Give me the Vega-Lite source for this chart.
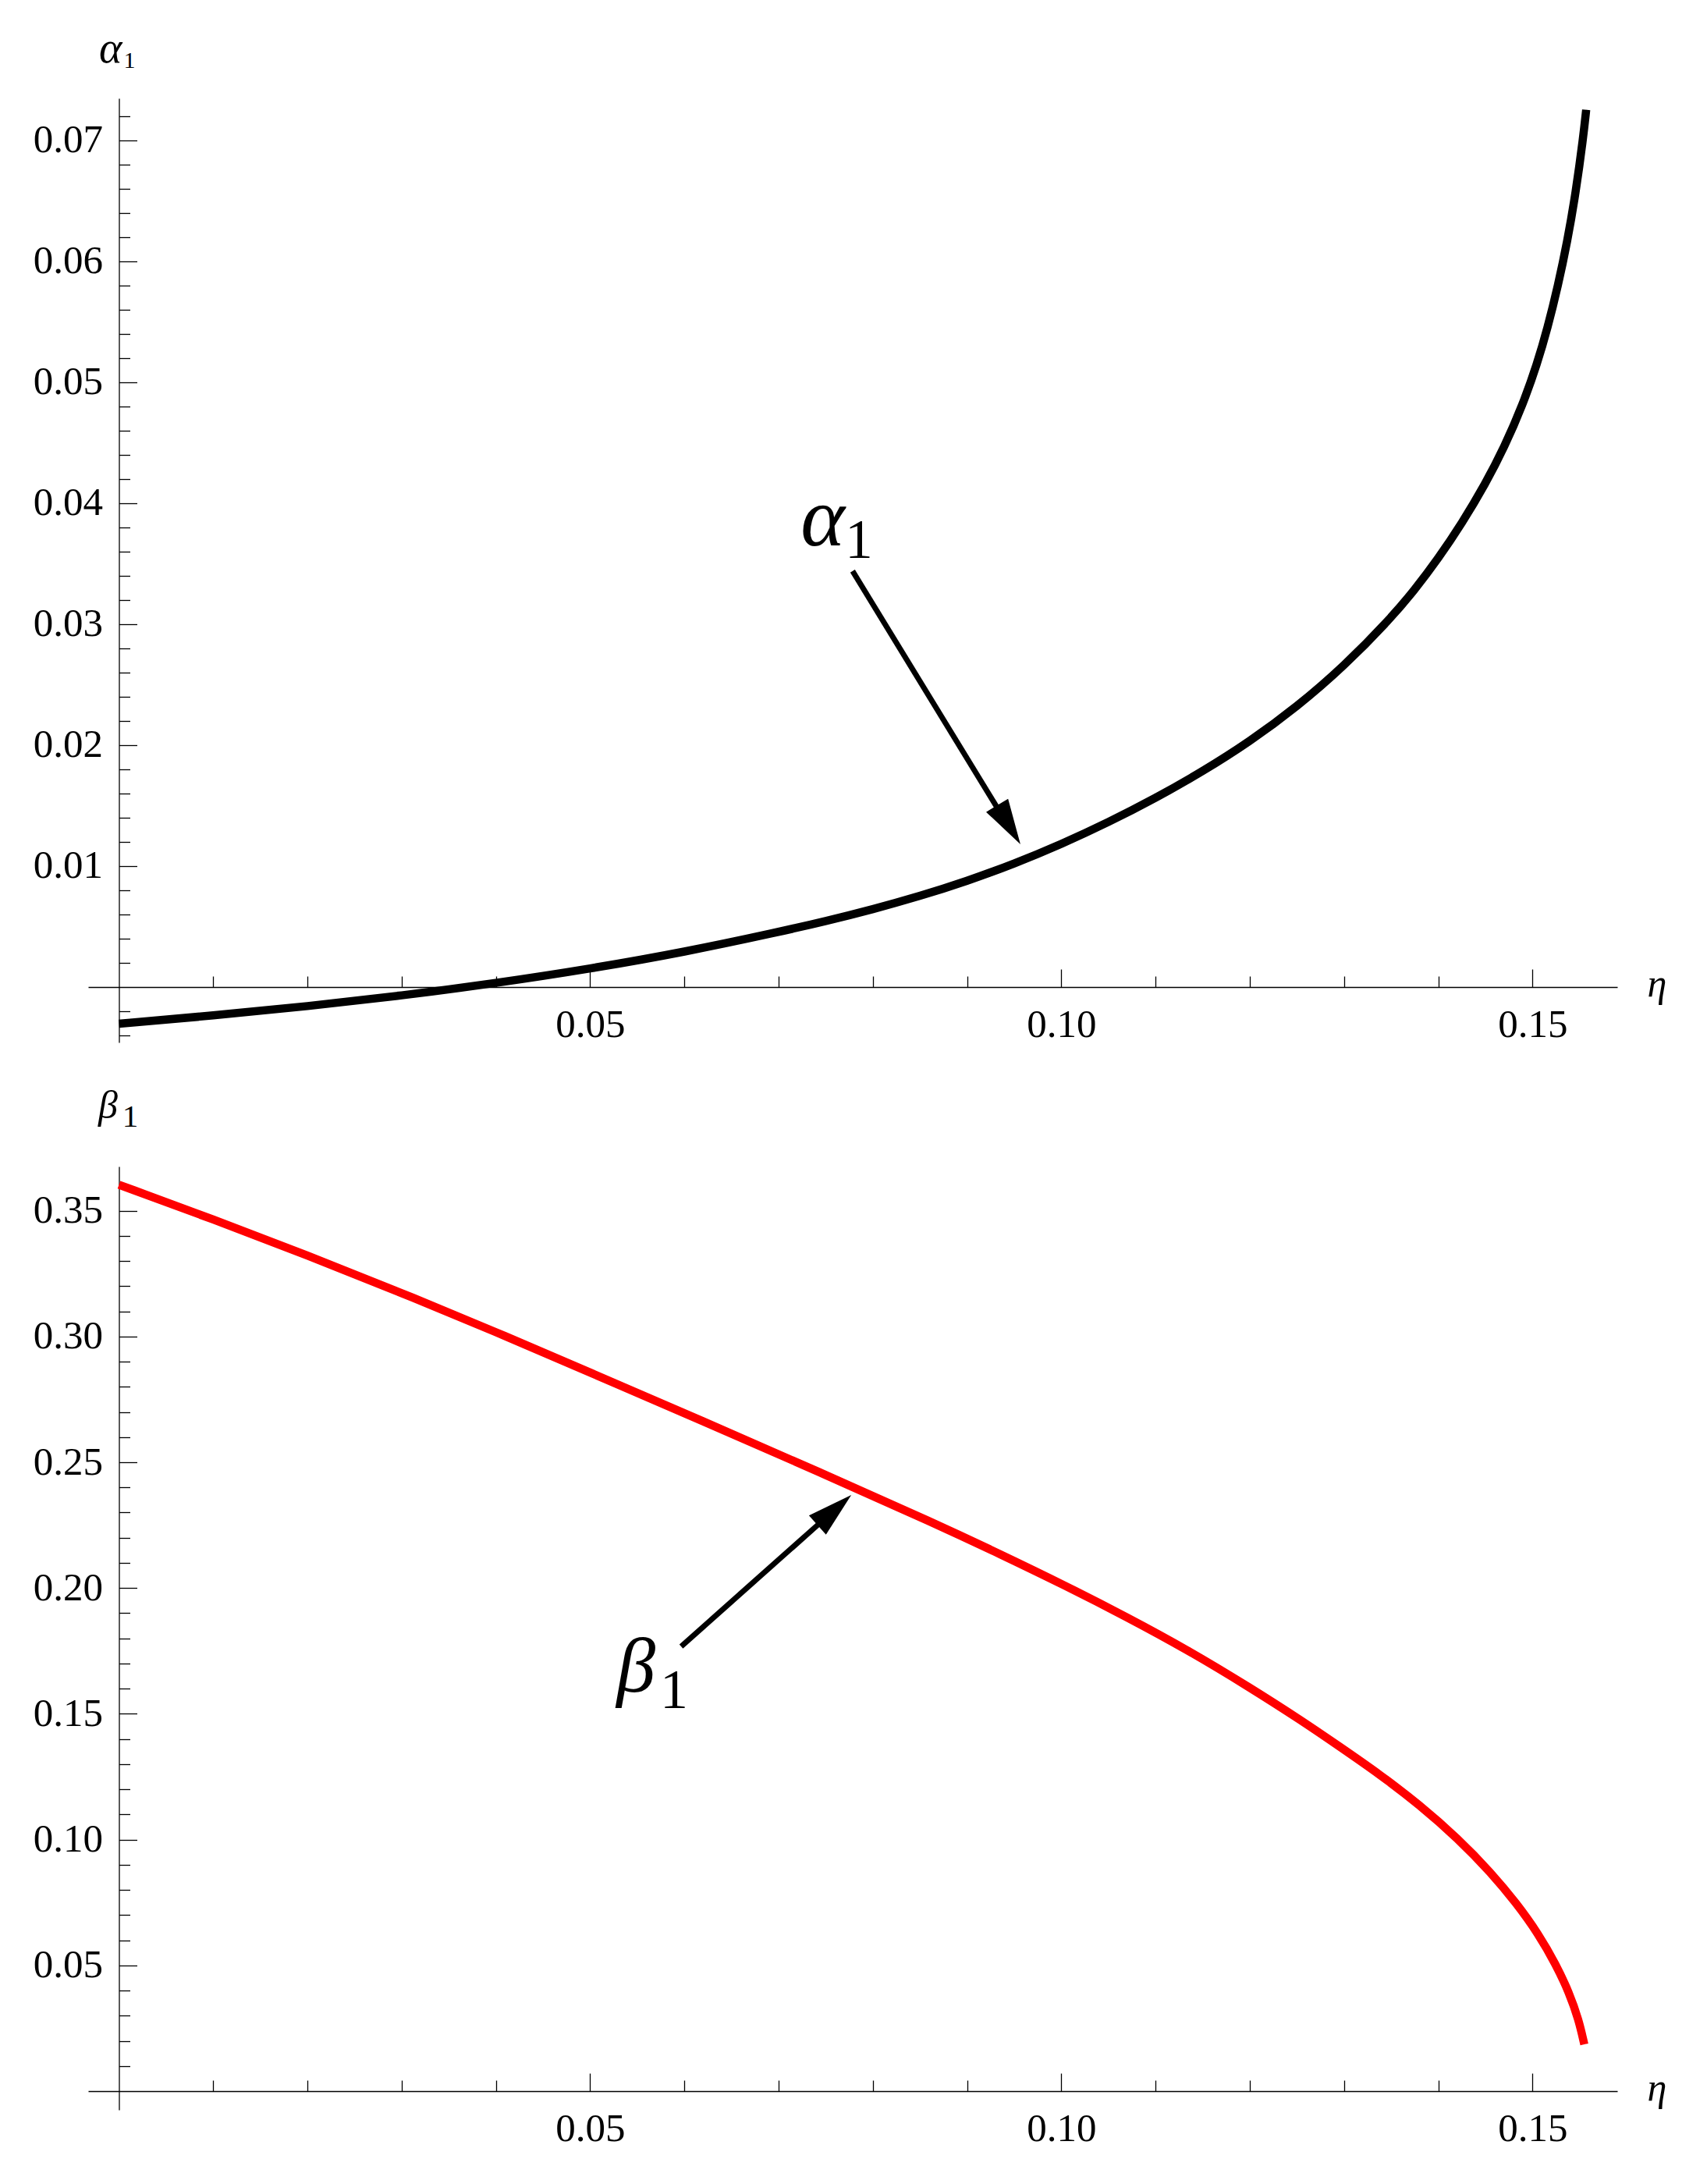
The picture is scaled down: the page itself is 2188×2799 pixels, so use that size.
{
  "$schema": "https://vega.github.io/schema/vega-lite/v6.json",
  "padding": {"left": 42, "top": 34, "right": 5, "bottom": 5},
  "spacing": 159,
  "bounds": "flush",
  "config": {
    "view": {"stroke": null},
    "axis": {
      "grid": false,
      "domainColor": "black",
      "domainWidth": 1.3,
      "tickColor": "black",
      "tickWidth": 1.3,
      "labelColor": "black",
      "labelFont": "Liberation Serif",
      "labelFontSize": 51,
      "labelAngle": 0,
      "labelOverlap": false,
      "labelFlush": false,
      "titleFont": "Liberation Serif",
      "titleColor": "black",
      "titleFontWeight": "normal"
    }
  },
  "vconcat": [
    {
      "width": 1960,
      "height": 1210,
      "encoding": {
        "x": {
          "field": "eta",
          "type": "quantitative",
          "scale": {"domain": [-0.00327, 0.159], "nice": false, "zero": false},
          "axis": {
            "orient": "bottom",
            "offset": -71,
            "values": [0.01, 0.02, 0.03, 0.04, 0.05, 0.06, 0.07, 0.08, 0.09, 0.10, 0.11, 0.12, 0.13, 0.14, 0.15],
            "tickSize": {"condition": {"test": "abs(datum.value*20 - round(datum.value*20)) < 0.001", "value": -23}, "value": -14},
            "labelExpr": "abs(datum.value*20 - round(datum.value*20)) < 0.001 ? format(datum.value, '.2f') : ''",
            "labelPadding": 86,
            "labelBaseline": "alphabetic",
            "title": "η",
            "titleFontSize": 50,
            "titleFontStyle": "italic",
            "titleX": 1998,
            "titleY": 11,
            "titleAlign": "left",
            "titleBaseline": "alphabetic"
          }
        },
        "y": {
          "field": "val",
          "type": "quantitative",
          "scale": {"domain": [-0.00458, 0.07348], "nice": false, "zero": false},
          "axis": {
            "orient": "left",
            "offset": -39.5,
            "values": [-0.004, -0.002, 0.002, 0.004, 0.006, 0.008, 0.01, 0.012, 0.014, 0.016, 0.018, 0.02, 0.022, 0.024, 0.026, 0.028, 0.03, 0.032, 0.034, 0.036, 0.038, 0.04, 0.042, 0.044, 0.046, 0.048, 0.05, 0.052, 0.054, 0.056, 0.058, 0.06, 0.062, 0.064, 0.066, 0.068, 0.07, 0.072],
            "tickSize": {"condition": {"test": "abs(datum.value*100 - round(datum.value*100)) < 0.001", "value": -23}, "value": -14},
            "labelExpr": "abs(datum.value*100 - round(datum.value*100)) < 0.001 ? format(datum.value, '.2f') : ''",
            "labelPadding": 44,
            "labelBaseline": "middle",
            "title": null
          }
        }
      },
      "layer": [
        {
          "data": {
            "values": [
              {"eta": 0, "val": -0.00303},
              {"eta": 0.01, "val": -0.00236},
              {"eta": 0.02, "val": -0.00159},
              {"eta": 0.03, "val": -0.00071},
              {"eta": 0.04, "val": 0.00032},
              {"eta": 0.05, "val": 0.00151},
              {"eta": 0.06, "val": 0.00289},
              {"eta": 0.07, "val": 0.00455},
              {"eta": 0.075, "val": 0.00545},
              {"eta": 0.08, "val": 0.00643},
              {"eta": 0.085, "val": 0.00752},
              {"eta": 0.09, "val": 0.00876},
              {"eta": 0.095, "val": 0.01019},
              {"eta": 0.1, "val": 0.01181},
              {"eta": 0.105, "val": 0.01362},
              {"eta": 0.11, "val": 0.01562},
              {"eta": 0.115, "val": 0.01782},
              {"eta": 0.12, "val": 0.02029},
              {"eta": 0.125, "val": 0.02317},
              {"eta": 0.13, "val": 0.02652},
              {"eta": 0.135, "val": 0.03052},
              {"eta": 0.1375, "val": 0.03284},
              {"eta": 0.14, "val": 0.03543},
              {"eta": 0.1425, "val": 0.03832},
              {"eta": 0.145, "val": 0.0416},
              {"eta": 0.147, "val": 0.0446},
              {"eta": 0.149, "val": 0.0482},
              {"eta": 0.1505, "val": 0.05154},
              {"eta": 0.1516, "val": 0.05448},
              {"eta": 0.1527, "val": 0.05795},
              {"eta": 0.1537, "val": 0.06165},
              {"eta": 0.1546, "val": 0.0657},
              {"eta": 0.1554, "val": 0.07034},
              {"eta": 0.1557, "val": 0.07253}
            ]
          },
          "mark": {"type": "line", "color": "black", "strokeWidth": 10.5, "interpolate": "basis"}
        },
        {
          "data": {"values": [{"eta": 0.07785, "val": 0.03439, "eta2": 0.09344, "val2": 0.01452}]},
          "mark": {"type": "rule", "color": "black", "strokeWidth": 7},
          "encoding": {"x2": {"field": "eta2"}, "y2": {"field": "val2"}}
        },
        {
          "data": {"values": [{"eta": 0.09566, "val": 0.01181}]},
          "mark": {"type": "point", "shape": "M0,0L0.283,1L-0.283,1Z", "size": 13456, "angle": 149, "filled": true, "color": "black", "opacity": 1, "strokeWidth": 0}
        },
        {
          "data": {"values": [{"eta": -0.00211, "val": 0.07645, "label": "α"}]},
          "mark": {"type": "text", "font": "Liberation Serif", "fontStyle": "italic", "fontSize": 56, "align": "left", "baseline": "alphabetic", "color": "black"},
          "encoding": {"text": {"field": "label"}}
        },
        {
          "data": {"values": [{"eta": 0.0005, "val": 0.076, "label": "1"}]},
          "mark": {"type": "text", "font": "Liberation Serif", "fontSize": 30, "align": "left", "baseline": "alphabetic", "color": "black"},
          "encoding": {"text": {"field": "label"}}
        },
        {
          "data": {"values": [{"eta": 0.07233, "val": 0.03652, "label": "α"}]},
          "mark": {"type": "text", "font": "Liberation Serif", "fontStyle": "italic", "fontSize": 108, "align": "left", "baseline": "alphabetic", "color": "black"},
          "encoding": {"text": {"field": "label"}}
        },
        {
          "data": {"values": [{"eta": 0.07705, "val": 0.03548, "label": "1"}]},
          "mark": {"type": "text", "font": "Liberation Serif", "fontSize": 71, "align": "left", "baseline": "alphabetic", "color": "black"},
          "encoding": {"text": {"field": "label"}}
        }
      ]
    },
    {
      "width": 1960,
      "height": 1209,
      "encoding": {
        "x": {
          "field": "eta",
          "type": "quantitative",
          "scale": {"domain": [-0.00327, 0.159], "nice": false, "zero": false},
          "axis": {
            "orient": "bottom",
            "offset": -24,
            "values": [0.01, 0.02, 0.03, 0.04, 0.05, 0.06, 0.07, 0.08, 0.09, 0.10, 0.11, 0.12, 0.13, 0.14, 0.15],
            "tickSize": {"condition": {"test": "abs(datum.value*20 - round(datum.value*20)) < 0.001", "value": -23}, "value": -14},
            "labelExpr": "abs(datum.value*20 - round(datum.value*20)) < 0.001 ? format(datum.value, '.2f') : ''",
            "labelPadding": 86,
            "labelBaseline": "alphabetic",
            "title": "η",
            "titleFontSize": 50,
            "titleFontStyle": "italic",
            "titleX": 1998,
            "titleY": 11,
            "titleAlign": "left",
            "titleBaseline": "alphabetic"
          }
        },
        "y": {
          "field": "val",
          "type": "quantitative",
          "scale": {"domain": [-0.00744, 0.36756], "nice": false, "zero": false},
          "axis": {
            "orient": "left",
            "offset": -39.5,
            "values": [0.01, 0.02, 0.03, 0.04, 0.05, 0.06, 0.07, 0.08, 0.09, 0.10, 0.11, 0.12, 0.13, 0.14, 0.15, 0.16, 0.17, 0.18, 0.19, 0.20, 0.21, 0.22, 0.23, 0.24, 0.25, 0.26, 0.27, 0.28, 0.29, 0.30, 0.31, 0.32, 0.33, 0.34, 0.35, 0.36],
            "tickSize": {"condition": {"test": "abs(datum.value*20 - round(datum.value*20)) < 0.001", "value": -23}, "value": -14},
            "labelExpr": "abs(datum.value*20 - round(datum.value*20)) < 0.001 ? format(datum.value, '.2f') : ''",
            "labelPadding": 44,
            "labelBaseline": "middle",
            "title": null
          }
        }
      },
      "layer": [
        {
          "data": {
            "values": [
              {"eta": 0, "val": 0.3603},
              {"eta": 0.01, "val": 0.3466},
              {"eta": 0.02, "val": 0.3323},
              {"eta": 0.03, "val": 0.3173},
              {"eta": 0.04, "val": 0.3018},
              {"eta": 0.0496, "val": 0.2863},
              {"eta": 0.062, "val": 0.2663},
              {"eta": 0.0744, "val": 0.246},
              {"eta": 0.0868, "val": 0.2253},
              {"eta": 0.0935, "val": 0.2135},
              {"eta": 0.1003, "val": 0.2012},
              {"eta": 0.107, "val": 0.1884},
              {"eta": 0.1135, "val": 0.1752},
              {"eta": 0.12, "val": 0.1605},
              {"eta": 0.1255, "val": 0.1473},
              {"eta": 0.1296, "val": 0.1368},
              {"eta": 0.1338, "val": 0.1259},
              {"eta": 0.138, "val": 0.1139},
              {"eta": 0.1421, "val": 0.1004},
              {"eta": 0.1456, "val": 0.0869},
              {"eta": 0.1483, "val": 0.0747},
              {"eta": 0.1506, "val": 0.0627},
              {"eta": 0.1525, "val": 0.0503},
              {"eta": 0.1539, "val": 0.0391},
              {"eta": 0.1549, "val": 0.0285},
              {"eta": 0.1555, "val": 0.0186}
            ]
          },
          "mark": {"type": "line", "color": "#ff0000", "strokeWidth": 10.5, "interpolate": "basis"}
        },
        {
          "data": {"values": [{"eta": 0.05966, "val": 0.1768, "eta2": 0.07449, "val2": 0.2262}]},
          "mark": {"type": "rule", "color": "black", "strokeWidth": 7},
          "encoding": {"x2": {"field": "eta2"}, "y2": {"field": "val2"}}
        },
        {
          "data": {"values": [{"eta": 0.07771, "val": 0.237}]},
          "mark": {"type": "point", "shape": "M0,0L0.283,1L-0.283,1Z", "size": 13456, "angle": 48.3, "filled": true, "color": "black", "opacity": 1, "strokeWidth": 0}
        },
        {
          "data": {"values": [{"eta": -0.00219, "val": 0.3868, "label": "β"}]},
          "mark": {"type": "text", "font": "Liberation Serif", "fontStyle": "italic", "fontSize": 50, "align": "left", "baseline": "alphabetic", "color": "black"},
          "encoding": {"text": {"field": "label"}}
        },
        {
          "data": {"values": [{"eta": 0.00035, "val": 0.3834, "label": "1"}]},
          "mark": {"type": "text", "font": "Liberation Serif", "fontSize": 41, "align": "left", "baseline": "alphabetic", "color": "black"},
          "encoding": {"text": {"field": "label"}}
        },
        {
          "data": {"values": [{"eta": 0.05279, "val": 0.1588, "label": "β"}]},
          "mark": {"type": "text", "font": "Liberation Serif", "fontStyle": "italic", "fontSize": 100, "align": "left", "baseline": "alphabetic", "color": "black"},
          "encoding": {"text": {"field": "label"}}
        },
        {
          "data": {"values": [{"eta": 0.05742, "val": 0.1523, "label": "1"}]},
          "mark": {"type": "text", "font": "Liberation Serif", "fontSize": 72, "align": "left", "baseline": "alphabetic", "color": "black"},
          "encoding": {"text": {"field": "label"}}
        }
      ]
    }
  ]
}
